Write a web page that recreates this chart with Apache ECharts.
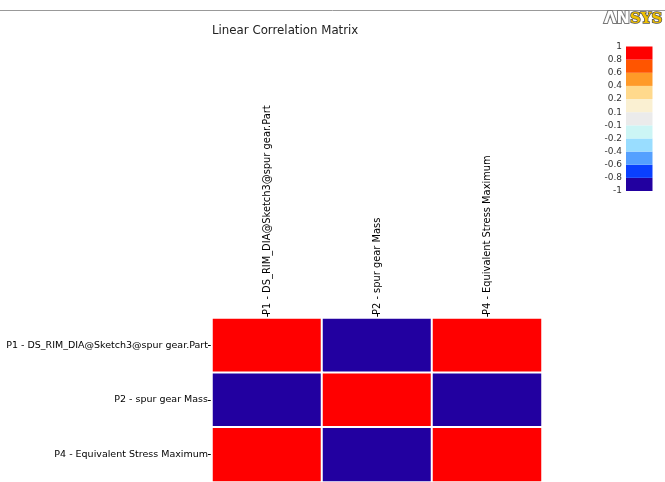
<!DOCTYPE html>
<html>
<head>
<meta charset="utf-8">
<script src="https://cdn.jsdelivr.net/npm/echarts@6/dist/echarts.min.js"></script>
<style>html,body{margin:0;padding:0;background:#fff}#c{width:665px;height:482px}</style>
</head>
<body>
<div id="c"></div>
<script>
var xCategories = ['P1 - DS_RIM_DIA@Sketch3@spur gear.Part', 'P2 - spur gear Mass', 'P4 - Equivalent Stress Maximum'];
var yCategories = ['P4 - Equivalent Stress Maximum', 'P2 - spur gear Mass', 'P1 - DS_RIM_DIA@Sketch3@spur gear.Part'];
// [xIndex, yIndex, correlation]
var correlations = [
  [0, 2, 1], [1, 2, -1], [2, 2, 1],
  [0, 1, -1], [1, 1, 1], [2, 1, -1],
  [0, 0, 1], [1, 0, -1], [2, 0, 1]
];
// legend boundaries bottom to top
var legendTicks = ['-1', '-0.8', '-0.6', '-0.4', '-0.2', '-0.1', '0.1', '0.2', '0.4', '0.6', '0.8', '1'];
var legendBounds = [-1, -0.8, -0.6, -0.4, -0.2, -0.1, 0.1, 0.2, 0.4, 0.6, 0.8, 1];
var legendColors = ['#2200a0', '#0a40ff', '#55a0ff', '#99ddff', '#ccf5f5', '#ebebeb', '#faf0d2', '#ffd98c', '#ff9a28', '#ff5500', '#ff0000'];

var pieces = [];
for (var i = 0; i < legendColors.length; i++) {
  pieces.push({ gte: legendBounds[i], lt: legendBounds[i + 1] + (i === legendColors.length - 1 ? 0.001 : 0), color: legendColors[i] });
}
var legendSeries = legendColors.map(function (c) {
  return { type: 'bar', stack: 'legend', xAxisIndex: 1, yAxisIndex: 1, data: [1], barWidth: '100%', itemStyle: { color: c }, silent: true };
});

var chart = echarts.init(document.getElementById('c'));
chart.setOption({
  animation: false,
  title: [
    { text: 'Linear Correlation Matrix', left: 212, top: 25,
      textStyle: { fontFamily: 'DejaVu Sans', fontSize: 11.8, fontWeight: 'normal', color: '#222' }, padding: 0 },
    { text: '{a|ΛN}{b|SYS}', right: 1, top: 11, padding: 0,
      textStyle: { rich: {
        a: { fontFamily: 'DejaVu Sans', fontSize: 16, fontWeight: 'bold', color: '#fff', textBorderColor: '#777', textBorderWidth: 2 },
        b: { fontFamily: 'DejaVu Serif', fontSize: 15, fontWeight: 'bold', color: '#f0c000', textBorderColor: '#555', textBorderWidth: 1.5 }
      } } }
  ],
  graphic: [
    { type: 'line', shape: { x1: 0, y1: 10.5, x2: 665, y2: 10.5 }, style: { stroke: '#999', lineWidth: 1 } }
  ],
  grid: [
    { left: 212, right: 123, top: 318, bottom: -3 },
    { left: 626, width: 26.5, top: 46.5, height: 144.5 }
  ],
  xAxis: [
    { type: 'category', data: xCategories, position: 'top', gridIndex: 0,
      axisLine: { show: false }, splitLine: { show: false },
      axisTick: { show: true, alignWithLabel: true, length: 4, lineStyle: { color: '#000' } },
      axisLabel: { rotate: -90, fontFamily: 'DejaVu Sans', fontSize: 9.9, color: '#000', margin: 3 } },
    { type: 'category', data: [''], gridIndex: 1, show: false }
  ],
  yAxis: [
    { type: 'category', data: yCategories, gridIndex: 0,
      axisLine: { show: false }, splitLine: { show: false },
      axisTick: { show: true, alignWithLabel: true, length: 4, lineStyle: { color: '#000' } },
      axisLabel: { fontFamily: 'DejaVu Sans', fontSize: 9.5, color: '#000', margin: 4 } },
    { type: 'value', gridIndex: 1, min: 0, max: 11, interval: 1,
      axisLine: { show: false }, axisTick: { show: false }, splitLine: { show: false },
      axisLabel: { fontFamily: 'DejaVu Sans', fontSize: 9, color: '#333', margin: 4,
        formatter: function (v) { return legendTicks[Math.round(v)]; } } }
  ],
  visualMap: {
    type: 'piecewise', show: false, seriesIndex: 0, dimension: 2, pieces: pieces
  },
  series: [
    { type: 'heatmap', xAxisIndex: 0, yAxisIndex: 0, data: correlations,
      itemStyle: { borderColor: '#fff', borderWidth: 2 } }
  ].concat(legendSeries)
});
</script>
</body>
</html>
